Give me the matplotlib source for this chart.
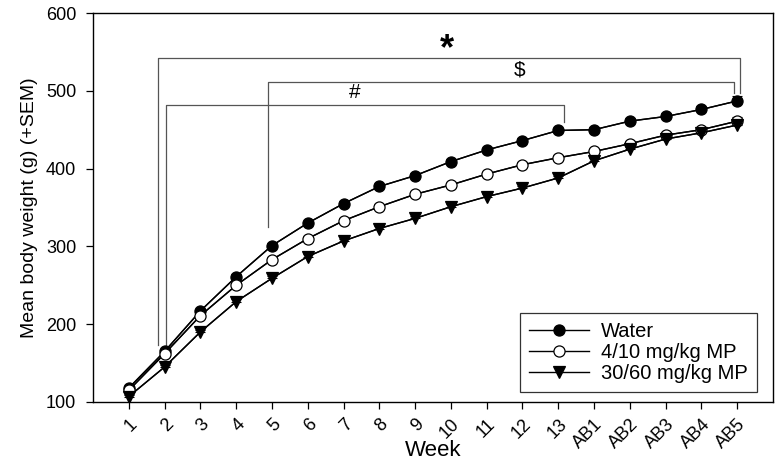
import numpy as np
import matplotlib
matplotlib.use("Agg")
import matplotlib.pyplot as plt
from matplotlib.transforms import ScaledTranslation

plt.rcParams['font.family'] = ['Liberation Sans', 'DejaVu Sans']

# data
weeks = ["1", "2", "3", "4", "5", "6", "7", "8", "9", "10", "11", "12", "13",
         "AB1", "AB2", "AB3", "AB4", "AB5"]
water = [118, 165, 217, 261, 301, 330, 355, 377, 391, 409, 424, 436, 449,
         450, 461, 467, 476, 487]
mp_low = [115, 162, 211, 250, 283, 310, 333, 351, 367, 379, 393, 405, 414,
          422, 432, 443, 450, 461]
mp_high = [107, 145, 190, 229, 259, 287, 307, 323, 336, 351, 364, 375, 388,
           410, 425, 438, 446, 456]
water_sem = [3, 3, 3, 4, 3, 3, 3, 3, 3, 3, 3, 3, 3, 4, 4, 4, 5, 6]
mp_low_sem = [3, 3, 3, 4, 3, 3, 3, 3, 3, 3, 3, 3, 3, 3, 4, 4, 4, 5]
mp_high_sem = [2, 2, 3, 3, 3, 3, 3, 3, 3, 3, 3, 3, 3, 4, 4, 4, 4, 4]

# significance brackets: (x_left, x_right, y_bar, y_left_end, y_right_end, label, label_x, label_y, size)
brackets = [
    (1.81, 18.09, 542, 173, 497, "*", 9.88, 553, 26),
    (4.88, 17.91, 511, 325, 497, "$", 11.93, 514, 15),
    (2.03, 13.16, 482, 173, 460, "#", 7.32, 485, 15),
]

x = np.arange(1, len(weeks) + 1)

fig = plt.figure(figsize=(7.81, 4.63), dpi=100)
ax = fig.add_axes([93 / 781, 61 / 463, 680 / 781, 389 / 463])

for xl, xr, yb, yl, yr, lab, lx, ly, sz in brackets:
    ax.plot([xl, xl, xr, xr], [yl, yb, yb, yr], color="#555555", lw=0.9, zorder=1)
    if lab == "*":
        ax.text(lx, ly, lab, ha="center", va="center", fontsize=sz, fontweight="bold")
    else:
        ax.text(lx, ly, lab, ha="center", va="bottom", fontsize=sz)

series = [
    (water, water_sem, "o", "black", "Water"),
    (mp_low, mp_low_sem, "o", "white", "4/10 mg/kg MP"),
    (mp_high, mp_high_sem, "v", "black", "30/60 mg/kg MP"),
]
for vals, sem, mk, fc, lab in series:
    vals = np.array(vals)
    ax.errorbar(x, vals, yerr=[np.zeros(len(sem)), sem], color="black", lw=1,
                capsize=3.5, elinewidth=0.8, capthick=0.8, zorder=2)
    ax.plot(x, vals, color="black", lw=1, marker=mk, markersize=8,
            markerfacecolor=fc, markeredgecolor="black", markeredgewidth=0.9,
            label=lab, zorder=3)

ax.set_xlim(0, 19)
ax.set_ylim(100, 600)
ax.set_yticks([100, 200, 300, 400, 500, 600])
ax.set_xticks(x)
ax.set_xticklabels(weeks, rotation=45, ha="right", rotation_mode="anchor")
shift = ScaledTranslation(4 / 100, 0, fig.dpi_scale_trans)
for t in ax.get_xticklabels():
    t.set_transform(t.get_transform() + shift)
ax.tick_params(direction="out", length=5, width=0.9, labelsize=13)
ax.tick_params(axis="y", pad=7)
ax.tick_params(axis="x", pad=5)
for sp in ax.spines.values():
    sp.set_linewidth(1)
ax.set_xlabel("Week", fontsize=16, va="center")
ax.xaxis.set_label_coords(0.5, -48 / 389)
ax.set_ylabel("Mean body weight (g) (+SEM)", fontsize=14, labelpad=6)

leg = ax.legend(loc="lower right", bbox_to_anchor=(664 / 680, 10 / 389),
                fontsize=14.5, frameon=True, fancybox=False, edgecolor="black",
                handlelength=3.0, handletextpad=0.6, borderaxespad=0,
                labelspacing=0.1, borderpad=0.45)
leg.get_frame().set_linewidth(0.9)

fig.savefig("out.png", dpi=100)
